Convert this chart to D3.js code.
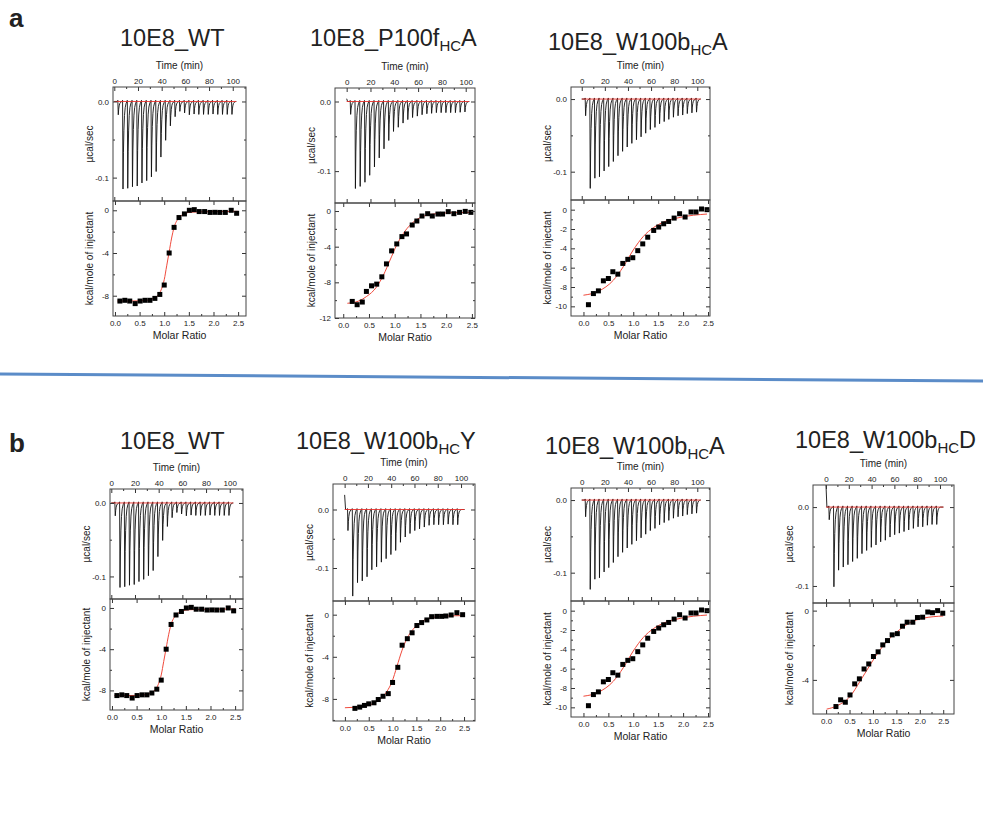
<!DOCTYPE html>
<html>
<head>
<meta charset="utf-8">
<script src="https://cdn.jsdelivr.net/npm/d3@7"></script>
<style>
  body { margin: 0; background: #fff; }
  svg { display: block; }
  text { font-family: "Liberation Sans", Arial, sans-serif; fill: #222; }
</style>
</head>
<body>
<div id="chart"></div>
<script>
// injection times (min)
const injTimesA = [3, 7, 11, 15, 19, 23, 27, 31, 35, 39, 43, 47, 51, 55, 59, 63, 67, 71, 75, 79, 83, 87, 91, 95, 99];
const injTimesB = [2.5, 6.6, 10.7, 14.8, 18.9, 23, 27.1, 31.2, 35.3, 39.4, 43.5, 47.6, 51.7, 55.8, 59.9, 64, 68.1, 72.2, 76.3, 80.4, 84.5, 88.6, 92.7, 96.8];

// 10E8_WT
const wtPeaks = [-0.0175, -0.115, -0.114, -0.112, -0.111, -0.107, -0.104, -0.099, -0.092, -0.073, -0.051, -0.032, -0.020, -0.013, -0.015, -0.0175, -0.0165, -0.017, -0.017, -0.017, -0.0165, -0.017, -0.017, -0.017, -0.017];
const wtRatio = [0.10, 0.20, 0.30, 0.41, 0.51, 0.61, 0.71, 0.81, 0.91, 1.00, 1.10, 1.20, 1.30, 1.41, 1.51, 1.61, 1.71, 1.82, 1.93, 2.03, 2.13, 2.24, 2.36, 2.47];
const wtHeat = [-8.5, -8.43, -8.5, -8.74, -8.5, -8.43, -8.43, -8.25, -7.88, -7.0, -4.0, -1.6, -0.68, -0.34, 0, 0.06, -0.12, -0.12, -0.2, -0.19, -0.2, -0.2, 0, -0.28];
const wtFitRatio = [0.05, 0.3, 0.6, 0.8, 0.9, 0.95, 1.0, 1.05, 1.1, 1.15, 1.2, 1.3, 1.4, 1.5, 1.7, 2.0, 2.5];
const wtFitHeat = [-8.5, -8.5, -8.45, -8.2, -7.8, -7.3, -6.5, -5.2, -3.9, -2.6, -1.6, -0.7, -0.35, -0.2, -0.15, -0.12, -0.1];

// 10E8_P100fHC A
const p100fPeaks = [-0.0185, -0.125, -0.122, -0.116, -0.106, -0.094, -0.081, -0.068, -0.056, -0.043, -0.037, -0.031, -0.026, -0.023, -0.021, -0.019, -0.0176, -0.017, -0.016, -0.016, -0.016, -0.016, -0.016, -0.0155, -0.015];
const p100fRatio = [0.175, 0.27, 0.37, 0.45, 0.55, 0.65, 0.75, 0.84, 0.94, 1.04, 1.14, 1.23, 1.34, 1.43, 1.53, 1.64, 1.73, 1.84, 1.93, 2.04, 2.15, 2.26, 2.37, 2.48];
const p100fHeat = [-10.14, -10.51, -10.21, -9.02, -8.39, -8.2, -7.38, -5.93, -4.47, -3.69, -2.87, -2.57, -1.57, -1.12, -0.56, -0.3, -0.56, -0.34, -0.34, -0.07, -0.3, -0.15, -0.04, -0.15];
const p100fFitRatio = [0.08, 0.3, 0.45, 0.65, 0.78, 0.91, 1.04, 1.17, 1.3, 1.49, 1.75, 2.08, 2.47];
const p100fFitHeat = [-10.35, -10.1, -9.6, -8.5, -7.2, -5.5, -3.8, -2.5, -1.57, -0.75, -0.34, -0.19, -0.15];

// 10E8_W100bHC A
const w100bAPeaks = [-0.023, -0.123, -0.109, -0.107, -0.099, -0.093, -0.086, -0.078, -0.072, -0.066, -0.061, -0.056, -0.052, -0.047, -0.042, -0.039, -0.034, -0.031, -0.028, -0.025, -0.023, -0.022, -0.020, -0.019, -0.018];
const w100bARatio = [0.10, 0.20, 0.30, 0.40, 0.50, 0.59, 0.69, 0.79, 0.89, 0.99, 1.09, 1.19, 1.29, 1.41, 1.51, 1.61, 1.71, 1.82, 1.93, 2.04, 2.16, 2.26, 2.37, 2.48];
const w100bAHeat = [-9.83, -8.68, -8.4, -7.36, -7.12, -6.42, -6.67, -5.56, -5.14, -4.97, -4.24, -3.54, -2.85, -2.15, -1.8, -1.46, -1.22, -0.87, -0.42, -0.76, -0.24, -0.24, 0.07, 0];
const w100bAFitRatio = [0, 0.3, 0.6, 0.8, 1.0, 1.2, 1.41, 1.61, 1.94, 2.48];
const w100bAFitHeat = [-8.85, -8.44, -7.3, -5.9, -4.17, -2.78, -1.84, -1.28, -0.8, -0.45];

// 10E8_W100bHC Y
const w100bYPeaks = [-0.036, -0.148, -0.125, -0.122, -0.115, -0.103, -0.098, -0.09, -0.084, -0.077, -0.07, -0.056, -0.047, -0.041, -0.036, -0.033, -0.03, -0.027, -0.026, -0.026, -0.026, -0.025, -0.026, -0.026];
const w100bYRatio = [0.21, 0.31, 0.41, 0.50, 0.61, 0.70, 0.80, 0.91, 1.00, 1.11, 1.20, 1.31, 1.41, 1.51, 1.61, 1.72, 1.82, 1.93, 2.03, 2.12, 2.23, 2.35, 2.47];
const w100bYHeat = [-8.9, -8.78, -8.62, -8.47, -8.37, -8.06, -7.75, -7.5, -6.44, -5.0, -2.9, -2.28, -1.72, -1.03, -0.75, -0.5, -0.19, -0.16, -0.16, -0.125, -0.03, 0.19, 0];
const w100bYFitRatio = [0, 0.4, 0.68, 0.88, 0.99, 1.09, 1.2, 1.3, 1.44, 1.62, 1.86, 2.14, 2.49];
const w100bYFitHeat = [-8.84, -8.7, -8.2, -7.3, -6.35, -4.94, -3.37, -2.28, -1.34, -0.63, -0.25, -0.13, -0.09];

// 10E8_W100bHC D
const w100bDPeaks = [-0.016, -0.101, -0.08, -0.076, -0.073, -0.069, -0.065, -0.059, -0.055, -0.051, -0.048, -0.044, -0.042, -0.038, -0.035, -0.033, -0.031, -0.029, -0.027, -0.025, -0.025, -0.023, -0.022, -0.022];
const w100bDRatio = [0.21, 0.31, 0.41, 0.51, 0.61, 0.71, 0.81, 0.91, 1.01, 1.11, 1.21, 1.31, 1.41, 1.52, 1.63, 1.73, 1.85, 1.95, 2.06, 2.17, 2.27, 2.38, 2.49];
const w100bDHeat = [-5.54, -5.15, -5.29, -4.87, -4.23, -3.94, -3.37, -3.08, -2.65, -2.38, -1.98, -1.73, -1.4, -1.33, -0.9, -0.67, -0.67, -0.4, -0.38, -0.08, -0.12, 0, -0.15];
const w100bDFitRatio = [0.01, 0.23, 0.51, 0.72, 0.94, 1.15, 1.36, 1.58, 1.79, 2.07, 2.5];
const w100bDFitHeat = [-5.69, -5.5, -4.96, -4.1, -3.13, -2.27, -1.6, -1.08, -0.69, -0.44, -0.31];

const timeTicks = [0, 20, 40, 60, 80, 100];
const timeMinor = [10, 30, 50, 70, 90, 110];
const ratioTicks = [0, 0.5, 1.0, 1.5, 2.0, 2.5];
const ratioMinor = [0.25, 0.75, 1.25, 1.75, 2.25];
const rawTicks = [0, -0.1];
const rawMinor = [-0.05];

// shape of one injection peak (minutes after injection, fraction of depth), plus a small hook above baseline
const peakShape = [[0, 0], [0.35, 1], [0.7, 0.58], [1.1, 0.33], [1.6, 0.16], [2.2, 0.07], [3.0, 0.02], [3.7, 0]];
const hookUp = 0.0015;

const svg = d3.select('#chart').append('svg')
  .attr('width', 983)
  .attr('height', 819);

svg.append('rect').attr('width', 983).attr('height', 819).attr('fill', '#fff');

// section letters
svg.append('text').attr('x', 9).attr('y', 27).text('a')
  .attr('style', 'font-size: 26px; font-weight: bold;');
svg.append('text').attr('x', 9).attr('y', 452).text('b')
  .attr('style', 'font-size: 26px; font-weight: bold;');

// divider
svg.append('line')
  .attr('x1', 0).attr('y1', 374).attr('x2', 983).attr('y2', 381)
  .attr('stroke', '#5b8cc8').attr('stroke-width', 3);

const panels = [
  { title: [['10E8_WT']], tx: 120, ty: 46,
    left: 113, right: 246, top: 87, mid: 201, bottom: 316,
    tDom: [-1.1, 111.2], rawDom: [0.019, -0.1307], kDom: [0.87, -9.9], mDom: [-0.04, 2.66],
    kTicks: [0, -4, -8], kMinor: [-2, -6],
    times: injTimesA, peaks: wtPeaks, start: 0,
    ratio: wtRatio, heat: wtHeat, fitX: wtFitRatio, fitY: wtFitHeat },
  { title: [['10E8_P100f'], ['HC', 1], ['A']], tx: 310, ty: 46,
    left: 335, right: 475, top: 88, mid: 203, bottom: 318,
    tDom: [-9.8, 107.8], rawDom: [0.0194, -0.1458], kDom: [0.9, -12], mDom: [-0.16, 2.56],
    kTicks: [0, -4, -8, -12], kMinor: [-2, -6, -10],
    times: injTimesA, peaks: p100fPeaks, start: 0.004,
    ratio: p100fRatio, heat: p100fHeat, fitX: p100fFitRatio, fitY: p100fFitHeat },
  { title: [['10E8_W100b'], ['HC', 1], ['A']], tx: 548, ty: 50,
    left: 571, right: 710, top: 87, mid: 200, bottom: 316,
    tDom: [-9.3, 111], rawDom: [0.0166, -0.139], kDom: [1.0, -11], mDom: [-0.25, 2.54],
    kTicks: [0, -2, -4, -6, -8, -10], kMinor: [-1, -3, -5, -7, -9],
    times: injTimesA, peaks: w100bAPeaks, start: 0,
    ratio: w100bARatio, heat: w100bAHeat, fitX: w100bAFitRatio, fitY: w100bAFitHeat },
  { title: [['10E8_WT']], tx: 120, ty: 449,
    left: 110, right: 243, top: 489, mid: 599, bottom: 710,
    tDom: [-1.1, 111.2], rawDom: [0.019, -0.1307], kDom: [0.87, -9.9], mDom: [-0.04, 2.66],
    kTicks: [0, -4, -8], kMinor: [-2, -6],
    times: injTimesA, peaks: wtPeaks, start: 0,
    ratio: wtRatio, heat: wtHeat, fitX: wtFitRatio, fitY: wtFitHeat },
  { title: [['10E8_W100b'], ['HC', 1], ['Y']], tx: 296, ty: 449,
    left: 333, right: 475, top: 484, mid: 601, bottom: 721,
    tDom: [-10, 112], rawDom: [0.0436, -0.1564], kDom: [1.3, -10.1], mDom: [-0.25, 2.73],
    kTicks: [0, -4, -8], kMinor: [-2, -6, -10],
    times: injTimesB, peaks: w100bYPeaks, start: 0.025,
    ratio: w100bYRatio, heat: w100bYHeat, fitX: w100bYFitRatio, fitY: w100bYFitHeat },
  { title: [['10E8_W100b'], ['HC', 1], ['A']], tx: 545, ty: 454,
    left: 571, right: 710, top: 488, mid: 601, bottom: 717,
    tDom: [-9.3, 111], rawDom: [0.0166, -0.139], kDom: [1.0, -11], mDom: [-0.25, 2.54],
    kTicks: [0, -2, -4, -6, -8, -10], kMinor: [-1, -3, -5, -7, -9],
    times: injTimesA, peaks: w100bAPeaks, start: 0,
    ratio: w100bARatio, heat: w100bAHeat, fitX: w100bAFitRatio, fitY: w100bAFitHeat },
  { title: [['10E8_W100b'], ['HC', 1], ['D']], tx: 795, ty: 448,
    left: 813, right: 954, top: 485, mid: 603, bottom: 714,
    tDom: [-11.4, 112.3], rawDom: [0.028, -0.1216], kDom: [0.44, -5.97], mDom: [-0.28, 2.73],
    kTicks: [0, -4], kMinor: [-2],
    times: injTimesB, peaks: w100bDPeaks, start: 0.028,
    ratio: w100bDRatio, heat: w100bDHeat, fitX: w100bDFitRatio, fitY: w100bDFitHeat },
];

function tickAxis(g, axis, values, size, fmt, pad) {
  g.call(axis.tickValues(values).tickSize(size).tickPadding(pad || 3).tickFormat(fmt || ''));
  g.select('.domain').remove();
  g.selectAll('line').attr('stroke', '#333');
  g.selectAll('text').attr('fill', '#222').attr('style', 'font-size: 8px;');
}

function drawPanel(p, idx) {
  const g = svg.append('g').attr('class', 'panel-' + idx);
  const x = d3.scaleLinear().domain(p.tDom).range([p.left, p.right]);
  const yr = d3.scaleLinear().domain(p.rawDom).range([p.top, p.mid]);
  const xm = d3.scaleLinear().domain(p.mDom).range([p.left, p.right]);
  const yk = d3.scaleLinear().domain(p.kDom).range([p.mid, p.bottom]);
  const cx = (p.left + p.right) / 2;

  // title
  const title = g.append('text').attr('x', p.tx).attr('y', p.ty).attr('style', 'font-size: 23.5px;');
  p.title.forEach(([t, sub], i) => {
    title.append('tspan').text(t)
      .attr('dy', sub ? 5 : (i > 0 ? -5 : 0))
      .attr('style', sub ? 'font-size: 15px;' : null);
  });

  // clip
  const clipId = 'clip' + idx;
  g.append('clipPath').attr('id', clipId).append('rect')
    .attr('x', p.left).attr('y', p.top).attr('width', p.right - p.left).attr('height', p.bottom - p.top);

  // raw heat trace
  const pts = [[0, p.start]];
  if (p.start) pts.push([0.8, 0]);
  p.peaks.forEach((depth, i) => {
    const t = p.times[i];
    pts.push([t - 0.15, 0], [t - 0.05, hookUp]);
    peakShape.forEach(([dt, f]) => pts.push([t + dt, depth * f]));
  });
  pts.push([103, 0]);

  g.append('path')
    .datum(pts)
    .attr('clip-path', `url(#${clipId})`)
    .attr('d', d3.line().x(d => x(d[0])).y(d => yr(d[1])))
    .attr('style', 'fill: none; stroke: #111; stroke-width: 0.9;');

  g.append('line')
    .attr('x1', x(0)).attr('x2', x(103)).attr('y1', yr(0)).attr('y2', yr(0))
    .attr('style', 'stroke: #e8302a; stroke-width: 0.9;');

  // integrated heats + fit
  const fit = p.fitX.map((v, i) => [v, p.fitY[i]]);
  g.append('path')
    .datum(fit)
    .attr('clip-path', `url(#${clipId})`)
    .attr('d', d3.line().x(d => xm(d[0])).y(d => yk(d[1])).curve(d3.curveMonotoneX))
    .attr('style', 'fill: none; stroke: #f04a3c; stroke-width: 1;');

  g.selectAll('rect.pt')
    .data(p.ratio.map((v, i) => [v, p.heat[i]]))
    .enter()
    .append('rect')
    .attr('class', 'pt')
    .attr('x', d => xm(d[0]) - 2.5)
    .attr('y', d => yk(d[1]) - 2.5)
    .attr('width', 5)
    .attr('height', 5)
    .attr('fill', '#000');

  // axes - top box
  tickAxis(g.append('g').attr('transform', `translate(0,${p.top})`), d3.axisTop(x), timeTicks, -4, d3.format('d'));
  tickAxis(g.append('g').attr('transform', `translate(0,${p.top})`), d3.axisTop(x), timeMinor.filter(v => v < p.tDom[1]), -2);
  tickAxis(g.append('g').attr('transform', `translate(0,${p.mid})`), d3.axisBottom(x), timeTicks, -4);
  tickAxis(g.append('g').attr('transform', `translate(${p.left},0)`), d3.axisLeft(yr), rawTicks, -4, d => d.toFixed(1), 4);
  tickAxis(g.append('g').attr('transform', `translate(${p.left},0)`), d3.axisLeft(yr), rawMinor, -2);
  tickAxis(g.append('g').attr('transform', `translate(${p.right},0)`), d3.axisRight(yr), rawTicks, -4);
  tickAxis(g.append('g').attr('transform', `translate(${p.right},0)`), d3.axisRight(yr), rawMinor, -2);

  // axes - bottom box
  tickAxis(g.append('g').attr('transform', `translate(0,${p.mid})`), d3.axisTop(xm), ratioTicks, -4);
  tickAxis(g.append('g').attr('transform', `translate(0,${p.bottom})`), d3.axisBottom(xm), ratioTicks, -4, d => d.toFixed(1), 4);
  tickAxis(g.append('g').attr('transform', `translate(0,${p.bottom})`), d3.axisBottom(xm), ratioMinor, -2);
  tickAxis(g.append('g').attr('transform', `translate(${p.left},0)`), d3.axisLeft(yk), p.kTicks, -4, d => String(d), 4);
  tickAxis(g.append('g').attr('transform', `translate(${p.left},0)`), d3.axisLeft(yk), p.kMinor, -2);
  tickAxis(g.append('g').attr('transform', `translate(${p.right},0)`), d3.axisRight(yk), p.kTicks, -4);
  tickAxis(g.append('g').attr('transform', `translate(${p.right},0)`), d3.axisRight(yk), p.kMinor, -2);

  // frames
  g.append('rect').attr('x', p.left).attr('y', p.top).attr('width', p.right - p.left).attr('height', p.mid - p.top)
    .attr('style', 'fill: none; stroke: #444; stroke-width: 1;');
  g.append('rect').attr('x', p.left).attr('y', p.mid).attr('width', p.right - p.left).attr('height', p.bottom - p.mid)
    .attr('style', 'fill: none; stroke: #444; stroke-width: 1;');

  // axis titles
  g.append('text').attr('x', cx).attr('y', p.top - 18).attr('text-anchor', 'middle')
    .attr('style', 'font-size: 10px;').text('Time (min)');
  g.append('text').attr('x', cx).attr('y', p.bottom + 23).attr('text-anchor', 'middle')
    .attr('style', 'font-size: 10.5px;').text('Molar Ratio');
  g.append('text')
    .attr('transform', `translate(${p.left - 20},${(p.top + p.mid) / 2}) rotate(-90)`)
    .attr('text-anchor', 'middle').attr('style', 'font-size: 10px;').text('µcal/sec');
  g.append('text')
    .attr('transform', `translate(${p.left - 20},${(p.mid + p.bottom) / 2}) rotate(-90)`)
    .attr('text-anchor', 'middle').attr('style', 'font-size: 10px;').text('kcal/mole of injectant');
}

panels.forEach(drawPanel);
</script>
</body>
</html>
